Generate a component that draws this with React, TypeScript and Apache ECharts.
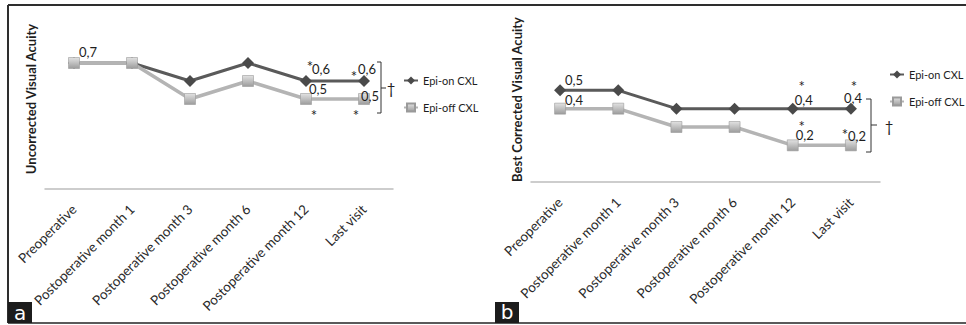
import React, { useEffect, useRef } from "react";
import * as echarts from "echarts";

const categories = [
  "Preoperative",
  "Postoperative month 1",
  "Postoperative month 3",
  "Postoperative month 6",
  "Postoperative month 12",
  "Last visit",
];
const seriesNames = ["Epi-on CXL", "Epi-off CXL"];
const ucvaEpiOn = [0.7, 0.7, 0.6, 0.7, 0.6, 0.6];
const ucvaEpiOff = [0.7, 0.7, 0.5, 0.6, 0.5, 0.5];
const bcvaEpiOn = [0.5, 0.5, 0.4, 0.4, 0.4, 0.4];
const bcvaEpiOff = [0.4, 0.4, 0.3, 0.3, 0.2, 0.2];
const axisTitles = ["Uncorrected Visual Acuity", "Best Corrected Visual Acuity"];
const panelLetters = ["a", "b"];
const significanceMark = "†";
const starMark = "*";

type Offsets = { [i: number]: [number, number] };

// label placements (style, not data)
const valueLabelPos: Offsets[] = [
  { 0: [14, -11], 4: [15, -12], 5: [3, -12] },
  { 4: [12, -10], 5: [6, -3] },
  { 0: [14, -10], 4: [11, -9], 5: [2, -11] },
  { 0: [14, -9], 4: [12, -10], 5: [6, -9] },
];
const starPos: Offsets[] = [
  { 4: [4, -15], 5: [-10, -5] },
  { 4: [8, 16], 5: [-8, 16] },
  { 4: [9, -23], 5: [3, -23] },
  { 4: [9, -19], 5: [-6, -11] },
];

const FONT = "Lato, 'Open Sans', sans-serif";
const fmt = (v: number) => v.toFixed(1).replace(".", ",");

const onStyle = {
  symbol: "diamond",
  symbolSize: 12,
  lineStyle: { color: "#5a5a5a", width: 3 },
  itemStyle: { color: "#4a4a4a" },
};
const offStyle = {
  symbol: "rect",
  symbolSize: 11,
  lineStyle: { color: "#b4b4b4", width: 3.5 },
  itemStyle: {
    color: {
      type: "linear",
      x: 0,
      y: 0,
      x2: 0,
      y2: 1,
      colorStops: [
        { offset: 0, color: "#e2e2e2" },
        { offset: 1, color: "#9c9c9c" },
      ],
    },
    borderColor: "#9a9a9a",
    borderWidth: 0.6,
  },
};

function makeSeries(
  name: string,
  values: number[],
  axisIdx: number,
  labels: Offsets,
  stars: Offsets,
  style: any
) {
  return {
    type: "line",
    name,
    xAxisIndex: axisIdx,
    yAxisIndex: axisIdx,
    ...style,
    data: values.map((v, i) => ({
      value: v,
      label: labels[i]
        ? {
            show: true,
            position: "inside",
            offset: labels[i],
            formatter: fmt(v),
            fontSize: 13,
            color: "#1e1e1e",
            fontFamily: FONT,
          }
        : { show: false },
    })),
    markPoint: {
      symbol: "circle",
      symbolSize: 1,
      itemStyle: { color: "rgba(0,0,0,0)" },
      label: {
        show: true,
        position: "inside",
        formatter: starMark,
        fontSize: 15,
        color: "#1e1e1e",
        fontFamily: FONT,
      },
      data: Object.keys(stars).map((k) => {
        const i = Number(k);
        return {
          coord: [categories[i], values[i]],
          label: { offset: stars[i] },
        };
      }),
    },
  };
}

export default function App() {
  const ref = useRef<HTMLDivElement>(null);
  useEffect(() => {
    if (!ref.current) return;
    const chart = echarts.init(ref.current, undefined, { renderer: "svg" });
    const xAxisCommon = {
      type: "category",
      data: categories,
      boundaryGap: true,
      axisLine: { show: true, lineStyle: { color: "#bdbdbd", width: 1.5 } },
      axisTick: { show: false },
      axisLabel: {
        rotate: 45,
        margin: 18,
        interval: 0,
        fontSize: 13.5,
        color: "#2a2a2a",
        fontFamily: FONT,
      },
    };
    const yAxisCommon = {
      type: "value",
      min: 0,
      axisLine: { show: false },
      axisTick: { show: false },
      axisLabel: { show: false },
      splitLine: { show: false },
      nameLocation: "middle",
      nameRotate: 90,
      nameGap: 8,
      nameTextStyle: {
        fontSize: 13,
        fontWeight: "bold",
        color: "#1e1e1e",
        fontFamily: FONT,
      },
    };
    const legendCommon = {
      data: seriesNames,
      orient: "vertical",
      padding: 0,
      itemWidth: 14,
      itemHeight: 10,
      itemGap: 16,
      selectedMode: false,
      textStyle: { fontSize: 11, color: "#1e1e1e", fontFamily: FONT },
    };
    const option: any = {
      animation: false,
      backgroundColor: "#ffffff",
      grid: [
        { left: 45, top: 9, width: 348, height: 180 },
        { left: 531, top: 17, width: 349, height: 165 },
      ],
      xAxis: [
        { ...xAxisCommon, gridIndex: 0 },
        { ...xAxisCommon, gridIndex: 1 },
      ],
      yAxis: [
        { ...yAxisCommon, gridIndex: 0, max: 1.0, name: axisTitles[0] },
        { ...yAxisCommon, gridIndex: 1, max: 0.9, name: axisTitles[1] },
      ],
      legend: [
        { ...legendCommon, left: 403, top: 75 },
        { ...legendCommon, left: 889, top: 69 },
      ],
      series: [
        makeSeries(seriesNames[0], ucvaEpiOn, 0, valueLabelPos[0], starPos[0], onStyle),
        makeSeries(seriesNames[1], ucvaEpiOff, 0, valueLabelPos[1], starPos[1], offStyle),
        makeSeries(seriesNames[0], bcvaEpiOn, 1, valueLabelPos[2], starPos[2], onStyle),
        makeSeries(seriesNames[1], bcvaEpiOff, 1, valueLabelPos[3], starPos[3], offStyle),
      ],
      graphic: [
        // frame
        { type: "line", shape: { x1: 8, y1: 5, x2: 966, y2: 5 }, style: { stroke: "#2e2e2e", lineWidth: 2 } },
        { type: "line", shape: { x1: 8, y1: 5, x2: 8, y2: 323 }, style: { stroke: "#2e2e2e", lineWidth: 2 } },
        { type: "line", shape: { x1: 8, y1: 323, x2: 966, y2: 323 }, style: { stroke: "#5a5a5a", lineWidth: 2 } },
        // panel letters
        { type: "rect", shape: { x: 8, y: 302, width: 24, height: 21 }, style: { fill: "#1c1c1c" } },
        {
          type: "text",
          x: 20,
          y: 313,
          style: { text: panelLetters[0], fill: "#ffffff", font: "20px 'DejaVu Sans', sans-serif", align: "center", verticalAlign: "middle" },
        },
        { type: "rect", shape: { x: 495, y: 302, width: 24, height: 21 }, style: { fill: "#1c1c1c" } },
        {
          type: "text",
          x: 507,
          y: 312,
          style: { text: panelLetters[1], fill: "#ffffff", font: "20px 'DejaVu Sans', sans-serif", align: "center", verticalAlign: "middle" },
        },
        // brackets
        {
          type: "polyline",
          shape: { points: [[377, 62], [381, 62], [381, 113], [377, 113]] },
          style: { stroke: "#333", lineWidth: 1, fill: "none" },
        },
        { type: "line", shape: { x1: 381, y1: 88, x2: 386, y2: 88 }, style: { stroke: "#333", lineWidth: 1 } },
        {
          type: "text",
          x: 391,
          y: 88,
          style: { text: significanceMark, fill: "#1e1e1e", font: "15px Lato, sans-serif", align: "center", verticalAlign: "middle" },
        },
        {
          type: "polyline",
          shape: { points: [[866, 99], [871, 99], [871, 152], [866, 152]] },
          style: { stroke: "#333", lineWidth: 1, fill: "none" },
        },
        { type: "line", shape: { x1: 871, y1: 125, x2: 877, y2: 125 }, style: { stroke: "#333", lineWidth: 1 } },
        {
          type: "text",
          x: 889,
          y: 126,
          style: { text: significanceMark, fill: "#1e1e1e", font: "15px Lato, sans-serif", align: "center", verticalAlign: "middle" },
        },
      ],
    };
    chart.setOption(option);
    return () => chart.dispose();
  }, []);
  return (
    <div
      ref={ref}
      style={{ position: "absolute", left: 0, top: 0, width: 966, height: 325 }}
    />
  );
}
